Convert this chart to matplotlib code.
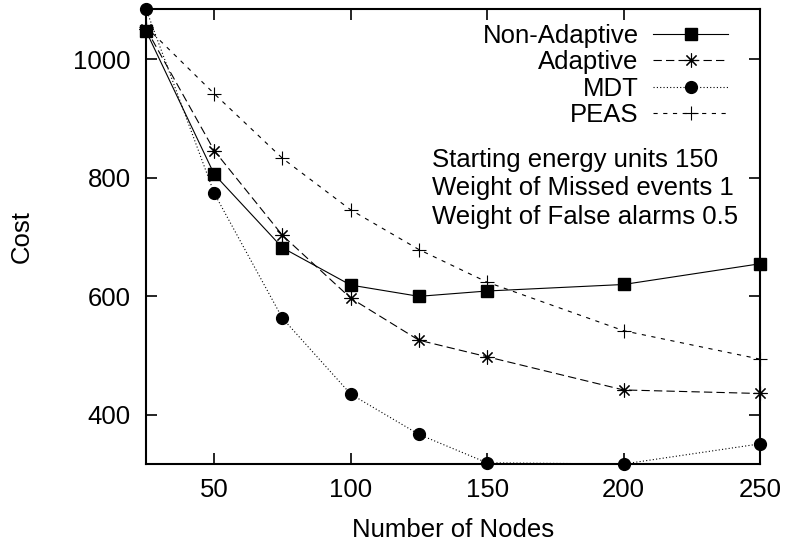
import matplotlib
matplotlib.use('Agg')
import matplotlib.pyplot as plt

# data
nodes = [25, 50, 75, 100, 125, 150, 200, 250]
non_adaptive = [1048, 806, 682, 619, 600, 609, 620, 655]
adaptive = [1052, 846, 703, 597, 526, 498, 442, 436]
mdt = [1085, 774, 563, 435, 367, 319, 317, 351]
peas = [1055, 942, 833, 746, 679, 624, 542, 494]

x_ticks = [50, 100, 150, 200, 250]
y_ticks = [400, 600, 800, 1000]
notes = ['Starting energy units 150',
         'Weight of Missed events 1',
         'Weight of False alarms 0.5']

FS = 18.5
plt.rcParams['font.family'] = ['Liberation Sans', 'DejaVu Sans']
plt.rcParams['font.size'] = FS
plt.rcParams['lines.scale_dashes'] = False

W, H = 789, 548
fig = plt.figure(figsize=(W / 100, H / 100), dpi=100)
ax = fig.add_axes([146 / W, 1 - 464 / H, (760 - 146) / W, (464 - 9) / H])

lw = 0.8
ax.plot(nodes, non_adaptive, color='black', lw=lw, ls='-', marker='s', ms=8.5,
        clip_on=False, label='Non-Adaptive')
ax.plot(nodes, adaptive, color='black', lw=lw, dashes=(6, 3), marker=(8, 2, 0), ms=10,
        mew=0.8, clip_on=False, label='Adaptive')
ax.plot(nodes, mdt, color='black', lw=lw, dashes=(0.8, 1.6), marker='o', ms=8.5,
        clip_on=False, label='MDT')
ax.plot(nodes, peas, color='black', lw=lw, dashes=(3, 4), marker='+', ms=10,
        mew=0.8, clip_on=False, label='PEAS')

ax.set_xlim(min(nodes), max(nodes))
all_y = non_adaptive + adaptive + mdt + peas
ax.set_ylim(min(all_y), max(all_y))
ax.set_xticks(x_ticks)
ax.set_yticks(y_ticks)

ax.tick_params(direction='in', length=8, width=1.2, top=True, right=True, labelsize=FS)
ax.tick_params(axis='x', pad=10)
ax.tick_params(axis='y', pad=11)
for s in ax.spines.values():
    s.set_linewidth(1.5)

ax.set_xlabel('Number of Nodes', fontsize=FS, va='center')
ax.xaxis.set_label_coords(0.5, (464 - 530) / 455)
ax.set_ylabel('Cost', fontsize=FS, va='center')
ax.yaxis.set_label_coords((22 - 146) / 614, 0.5)

leg = ax.legend(loc='upper right', bbox_to_anchor=(728 / W, 1 - 24 / H),
                bbox_transform=fig.transFigure, frameon=False, markerfirst=False,
                numpoints=1, handlelength=2.9, handletextpad=0.58, labelspacing=0.09,
                borderpad=0, borderaxespad=0, fontsize=FS)

for i, line in enumerate(notes):
    fig.text(432 / W, 1 - (160 + 28.5 * i) / H, line, fontsize=FS, ha='left', va='center')

fig.savefig('out.png', dpi=100)
